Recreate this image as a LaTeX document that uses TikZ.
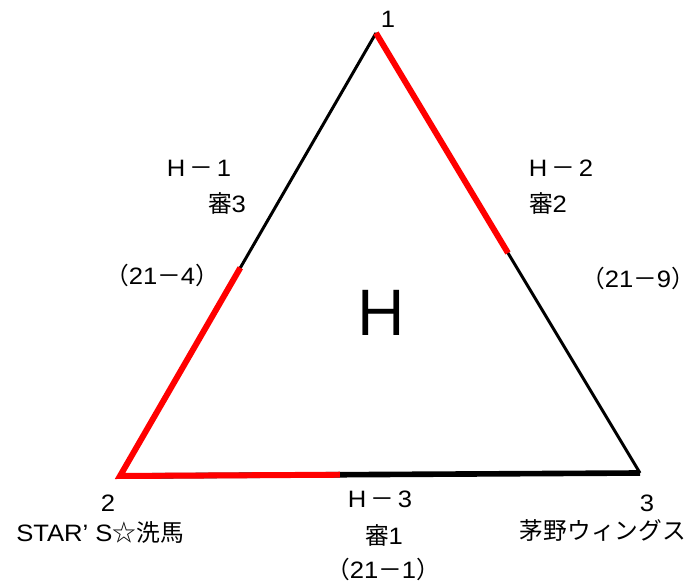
\documentclass[tikz,border=0pt]{standalone}
\usepackage{fontspec}
\setmainfont{Liberation Sans}[FakeStretch=1.08]
\newfontfamily\jp{Noto Sans CJK JP}
\usetikzlibrary{calc}

\begin{document}
\begin{tikzpicture}[
    x=0.02cm, y=-0.02cm,
    kante/.style={
        line width=1.7pt,
        black
    },
    sieg/.style={
        line width=3.4pt,
        red,
        line join=miter
    },
    beschr/.style={
        inner sep=0pt,
        anchor=base,
        font=\fontsize{13.5}{16}\selectfont
    },
    gruppe/.style={
        inner sep=0pt,
        font=\fontsize{35}{40}\selectfont\jp
    }
]

% ============================================================
% RAHMEN
% ============================================================

\useasboundingbox (0,0) rectangle (694,587);

% ============================================================
% ECKEN
% ============================================================

\coordinate (v1) at (376,33);
\coordinate (v2) at (120,476);
\coordinate (v3) at (640,473);

% ============================================================
% KANTEN
% ============================================================

\draw[kante] (v1) -- (v2);
\draw[kante] (v1) -- (v3);
\draw[kante, line width=3.2pt] (v2) -- (v3);

\draw[sieg] (v1) -- ($(v1)!0.5!(v3)$);
\draw[sieg] ($(v2)!0.47!(v1)$) -- (v2) -- ($(v2)!0.423!(v3)$);

% ============================================================
% TEXTE
% ============================================================

\node[gruppe] (grp) at (381,313) {Ｈ};

\node[beschr] (n1) at (388,28) {1};
\node[beschr] (n2) at (108,512) {2};
\node[beschr] (n3) at (647,512) {3};

\node[beschr] (t2) at (100,542) {STAR’\hspace{.3em}S{\jp ☆洗馬}};
\node[beschr] (t3) at (603,540) {\jp 茅野ウィングス};

\node[beschr] (s1) at (199,177) {H\,{\jp －}\,1};
\node[beschr] (r1) at (227,213) {{\jp 審}3};
\node[beschr] (e1) at (162,285) {{\jp （}21{\jp －}4{\jp ）}};

\node[beschr] (s2) at (561,177) {H\,{\jp －}\,2};
\node[beschr] (r2) at (548,213) {{\jp 審}2};
\node[beschr] (e2) at (638,288) {{\jp （}21{\jp －}9{\jp ）}};

\node[beschr] (s3) at (380,508) {H\,{\jp －}\,3};
\node[beschr] (r3) at (384,545) {{\jp 審}1};
\node[beschr] (e3) at (383,579) {{\jp （}21{\jp －}1{\jp ）}};

\end{tikzpicture}
\end{document}
